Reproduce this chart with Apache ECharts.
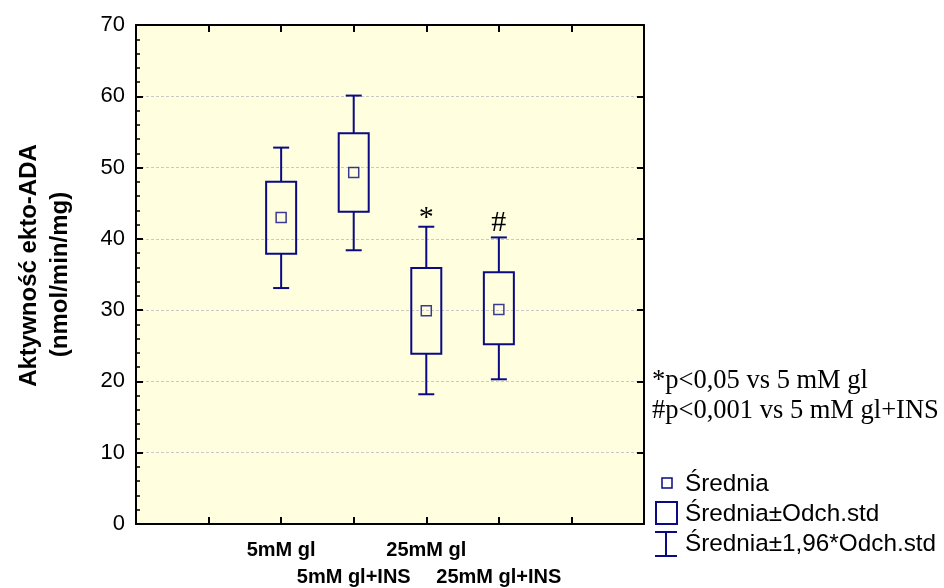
<!DOCTYPE html>
<html>
<head>
<meta charset="utf-8">
<script src="https://cdn.jsdelivr.net/npm/echarts@6/dist/echarts.min.js"></script>
<style>html,body{margin:0;padding:0;background:#fff}#c{width:944px;height:588px}</style>
</head>
<body>
<div id="c"></div>
<script>
// ---- data ----
var categories = ['5mM gl', '5mM gl+INS', '25mM gl', '25mM gl+INS'];
var means      = [43.0, 49.3, 29.9, 30.1];
var sdLow      = [37.9, 43.8, 23.9, 25.2];
var sdHigh     = [48.0, 54.8, 35.9, 35.3];
var ciLow      = [33.1, 38.4, 18.2, 20.3];
var ciHigh     = [52.8, 60.1, 41.7, 40.2];
var marks      = ['', '', '*', '#'];
var yTicks     = [0, 10, 20, 30, 40, 50, 60, 70];
var notes      = ['*p<0,05 vs 5 mM gl', '#p<0,001 vs 5 mM gl+INS'];
var legendLabels = ['Średnia', 'Średnia±Odch.std', 'Średnia±1,96*Odch.std'];
var yTitle = ['Aktywność ekto-ADA', '(nmol/min/mg)'];

var NAVY = '#0a0a82';
var OFFSET = 2; // first category sits at x = 2 on a 0..7 axis
var MARK_DY = {'*': 6, '#': 1}; // glyph-specific vertical nudge (px)

var boxData = categories.map(function (c, i) {
  return [i + OFFSET, ciLow[i], sdLow[i], means[i], sdHigh[i], ciHigh[i]];
});
var meanData = categories.map(function (c, i) { return [i + OFFSET, means[i]]; });

var chart = echarts.init(document.getElementById('c'), null, {renderer: 'canvas'});

function renderBox(params, api) {
  var x = api.value(0);
  var pWL = api.coord([x, api.value(1)]);
  var pBL = api.coord([x, api.value(2)]);
  var pBH = api.coord([x, api.value(4)]);
  var pWH = api.coord([x, api.value(5)]);
  var cx = pBH[0];
  var bw = 30, cw = 8;
  var st = {stroke: NAVY, lineWidth: 2, fill: null};
  var mark = marks[params.dataIndex];
  var children = [
    {type: 'line', shape: {x1: cx, y1: pWH[1], x2: cx, y2: pBH[1]}, style: st},
    {type: 'line', shape: {x1: cx, y1: pBL[1], x2: cx, y2: pWL[1]}, style: st},
    {type: 'line', shape: {x1: cx - cw, y1: pWH[1], x2: cx + cw, y2: pWH[1]}, style: st},
    {type: 'line', shape: {x1: cx - cw, y1: pWL[1], x2: cx + cw, y2: pWL[1]}, style: st},
    {type: 'rect', shape: {x: cx - bw / 2, y: pBH[1], width: bw, height: pBL[1] - pBH[1]}, style: st}
  ];
  if (mark) {
    children.push({
      type: 'text',
      style: {
        text: mark, x: cx, y: pWH[1] + (MARK_DY[mark] || 0),
        align: 'center', verticalAlign: 'bottom',
        font: '30px "Liberation Serif", serif', fill: '#000'
      }
    });
  }
  return {type: 'group', children: children};
}

var axisLineStyle = {color: '#000', width: 2};
var titleFont = {
  color: '#000', fontFamily: 'Liberation Sans, Arial, sans-serif',
  fontWeight: 'bold', fontSize: 24, lineHeight: 31
};

var option = {
  backgroundColor: '#fff',
  animation: false,
  grid: {
    left: 136, right: 300, top: 25, bottom: 64,
    outerBoundsMode: 'none', containLabel: false,
    show: true, backgroundColor: '#ffffe0', borderWidth: 0
  },
  xAxis: [{
    type: 'value', min: 0, max: 7, interval: 1, position: 'bottom',
    axisLine: {show: true, onZero: false, lineStyle: axisLineStyle},
    axisTick: {show: true, inside: true, length: 7, lineStyle: {color: '#000', width: 2}},
    splitLine: {show: false},
    axisLabel: {
      show: true, margin: 12.5, color: '#000',
      fontFamily: 'Liberation Sans, Arial, sans-serif', fontWeight: 'bold', fontSize: 20,
      lineHeight: 27, verticalAlign: 'top',
      formatter: function (v) {
        var i = Math.round(v) - OFFSET;
        if (i < 0 || i >= categories.length) return '';
        return (i % 2 === 1 ? '\n' : '') + categories[i];
      }
    }
  }, {
    type: 'value', min: 0, max: 7, interval: 1, position: 'top',
    axisLine: {show: true, onZero: false, lineStyle: axisLineStyle},
    axisTick: {show: true, inside: true, length: 7, lineStyle: {color: '#000', width: 2}},
    splitLine: {show: false}, axisLabel: {show: false}
  }],
  yAxis: [{
    type: 'value', min: yTicks[0], max: yTicks[yTicks.length - 1], interval: 10, position: 'left',
    name: '{a|' + yTitle[0] + '}\n{b|' + yTitle[1] + '}',
    nameLocation: 'middle', nameRotate: 90, nameGap: 60,
    nameTextStyle: Object.assign({}, titleFont, {
      rich: {
        a: Object.assign({}, titleFont, {padding: [0, 0, 0, 18]}),
        b: Object.assign({}, titleFont)
      }
    }),
    axisLine: {show: true, onZero: false, lineStyle: axisLineStyle},
    axisTick: {show: true, inside: true, length: 7, lineStyle: {color: '#000', width: 2}},
    minorTick: {show: true, splitNumber: 5, length: 4, lineStyle: {color: '#000', width: 1.5}},
    splitLine: {show: true, lineStyle: {color: '#c8c8c8', width: 1, type: [3, 2]}},
    axisLabel: {
      show: true, margin: 11, color: '#000',
      fontFamily: 'Liberation Sans, Arial, sans-serif', fontSize: 22
    }
  }, {
    type: 'value', min: yTicks[0], max: yTicks[yTicks.length - 1], interval: 10, position: 'right',
    axisLine: {show: true, onZero: false, lineStyle: axisLineStyle},
    axisTick: {show: true, inside: true, length: 7, lineStyle: {color: '#000', width: 2}},
    splitLine: {show: false}, axisLabel: {show: false}
  }],
  series: [{
    type: 'custom', name: legendLabels[1], xAxisIndex: 0, yAxisIndex: 0,
    renderItem: renderBox, data: boxData, clip: false, z: 3
  }, {
    type: 'scatter', name: legendLabels[0], xAxisIndex: 0, yAxisIndex: 0,
    data: meanData, symbol: 'rect', symbolSize: 10,
    itemStyle: {color: 'rgba(0,0,0,0)', borderColor: NAVY, borderWidth: 1.5},
    z: 4, silent: true
  }],
  graphic: [
    {type: 'text', x: 652, y: 381, style: {text: notes[0], font: '26.5px "Liberation Serif", serif', fill: '#000', verticalAlign: 'middle'}},
    {type: 'text', x: 652, y: 411, style: {text: notes[1], font: '26.5px "Liberation Serif", serif', fill: '#000', verticalAlign: 'middle'}},
    {type: 'rect', shape: {x: 662, y: 478, width: 10, height: 10}, style: {stroke: NAVY, lineWidth: 1.5, fill: null}},
    {type: 'text', x: 685, y: 484, style: {text: legendLabels[0], font: '24.3px "Liberation Sans", Arial, sans-serif', fill: '#000', verticalAlign: 'middle'}},
    {type: 'rect', shape: {x: 656, y: 502, width: 21, height: 22}, style: {stroke: NAVY, lineWidth: 2, fill: null}},
    {type: 'text', x: 685, y: 514, style: {text: legendLabels[1], font: '24.3px "Liberation Sans", Arial, sans-serif', fill: '#000', verticalAlign: 'middle'}},
    {type: 'line', shape: {x1: 655, y1: 532, x2: 677, y2: 532}, style: {stroke: NAVY, lineWidth: 2}},
    {type: 'line', shape: {x1: 666, y1: 532, x2: 666, y2: 556}, style: {stroke: NAVY, lineWidth: 2}},
    {type: 'line', shape: {x1: 655, y1: 556, x2: 677, y2: 556}, style: {stroke: NAVY, lineWidth: 2}},
    {type: 'text', x: 685, y: 544, style: {text: legendLabels[2], font: '24.3px "Liberation Sans", Arial, sans-serif', fill: '#000', verticalAlign: 'middle'}}
  ]
};
chart.setOption(option);
</script>
</body>
</html>
